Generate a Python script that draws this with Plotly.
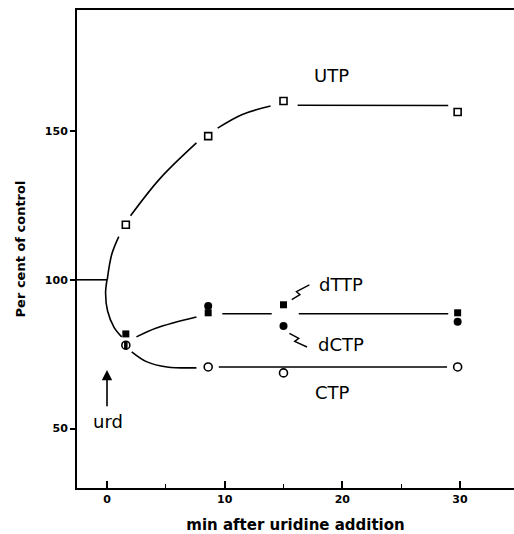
import plotly.graph_objects as go

# ---- data ----
time_pts = [1.6, 8.6, 15.0, 29.8]
utp = [118.5, 148.3, 160.1, 156.4]
dttp = [81.8, 88.9, 91.6, 88.9]
dctp = [78.0, 91.2, 84.5, 85.9]
ctp = [78.0, 70.7, 68.7, 70.7]

# hand-drawn fitted curves (segments separated by None)
base_x = [-2.55, 0.0]
base_y = [100, 100]
utp_curve_x = [1.0, 0.4, 0.02, None, 2.0, 4.5, 7.6, None, 9.4, 11.5, 13.9, None, 16.2, 29.0]
utp_curve_y = [114.5, 108.5, 100.0, None, 121.5, 134.0, 146.0, None, 151.0, 155.6, 158.4, None, 158.7, 158.6]
down_curve_x = [0.0, -0.12, 0.05, 0.6, 1.25]
down_curve_y = [100.0, 95.5, 89.5, 84.0, 80.8]
dnuc_curve_x = [2.5, 4.2, 7.6, None, 9.8, 14.0, None, 16.3, 29.0]
dnuc_curve_y = [80.8, 83.8, 87.5, None, 88.6, 88.6, None, 88.6, 88.6]
ctp_curve_x = [2.1, 3.4, 5.1, 7.6, None, 9.5, 28.9]
ctp_curve_y = [75.8, 72.4, 70.7, 70.4, None, 70.7, 70.7]

# zigzag leaders from labels to the 15-min points
dttp_zig_x = [15.7, 16.4, 16.1, 17.2]
dttp_zig_y = [93.3, 95.0, 96.0, 98.3]
dctp_zig_x = [15.5, 16.3, 15.95, 17.0]
dctp_zig_y = [82.0, 80.3, 79.3, 77.4]

labels = {"UTP": (19.1, 168.7), "dTTP": (19.9, 98.3), "dCTP": (19.9, 78.1), "CTP": (19.2, 62.0)}
arrow_tip = (0.0, 69.7)
arrow_tail = (0.0, 57.0)
urd_pos = (0.1, 52.2)

x_ticks = [0, 10, 20, 30]
y_ticks = [50, 100, 150]

FONT = "DejaVu Sans"
line_style = dict(color="black", width=1.6, shape="spline", smoothing=1.0)

fig = go.Figure()
for cx, cy in [(base_x, base_y), (utp_curve_x, utp_curve_y), (down_curve_x, down_curve_y),
               (dnuc_curve_x, dnuc_curve_y), (ctp_curve_x, ctp_curve_y)]:
    fig.add_trace(go.Scatter(x=cx, y=cy, mode="lines", line=line_style,
                             connectgaps=False, hoverinfo="skip", showlegend=False))
for zx, zy in [(dttp_zig_x, dttp_zig_y), (dctp_zig_x, dctp_zig_y)]:
    fig.add_trace(go.Scatter(x=zx, y=zy, mode="lines", line=dict(color="black", width=1.4),
                             hoverinfo="skip", showlegend=False))

fig.add_trace(go.Scatter(x=time_pts, y=utp, mode="markers", name="UTP", showlegend=False,
                         marker=dict(symbol="square-open", size=7, color="black", line=dict(width=1.6))))
fig.add_trace(go.Scatter(x=time_pts, y=dttp, mode="markers", name="dTTP", showlegend=False,
                         marker=dict(symbol="square", size=7, color="black")))
fig.add_trace(go.Scatter(x=time_pts, y=ctp, mode="markers", name="CTP", showlegend=False,
                         marker=dict(symbol="circle-open", size=8, color="black", line=dict(width=1.6))))
fig.add_trace(go.Scatter(x=time_pts[1:], y=dctp[1:], mode="markers", name="dCTP", showlegend=False,
                         marker=dict(symbol="circle", size=8, color="black")))
# overlapping dCTP/CTP point drawn half-filled
fig.add_trace(go.Scatter(x=time_pts[:1], y=dctp[:1], mode="markers", showlegend=False,
                         marker=dict(symbol="line-ns", size=6, color="black", line=dict(width=3.5, color="black"))))

for txt, (lx, ly) in labels.items():
    fig.add_annotation(x=lx, y=ly, text=txt, showarrow=False,
                       font=dict(family=FONT, size=18, color="black"))
fig.add_annotation(x=arrow_tip[0], y=arrow_tip[1], ax=arrow_tail[0], ay=arrow_tail[1],
                   axref="x", ayref="y", xref="x", yref="y", text="", showarrow=True,
                   arrowhead=2, arrowsize=1.3, arrowwidth=1.6, arrowcolor="black")
fig.add_annotation(x=urd_pos[0], y=urd_pos[1], text="urd", showarrow=False,
                   font=dict(family=FONT, size=18, color="black"))

fig.update_layout(
    width=514, height=534,
    margin=dict(l=77, r=0, t=10, b=46),
    paper_bgcolor="white", plot_bgcolor="white",
    font=dict(family=FONT, color="black"),
    xaxis=dict(range=[-2.55, 34.59], tickvals=x_ticks, ticks="inside", ticklen=7, tickwidth=1.6,
               tickcolor="black", showline=True, linecolor="black", linewidth=2, mirror=True,
               showgrid=False, zeroline=False,
               minor=dict(tickvals=[5, 15, 25], ticks="inside", ticklen=4, tickwidth=1.4, tickcolor="black"),
               tickfont=dict(family=FONT, size=11, color="black", weight="bold"),
               title=dict(text="min after uridine addition", standoff=14,
                          font=dict(family=FONT, size=15, color="black", weight="bold"))),
    yaxis=dict(range=[30, 190.7], tickvals=y_ticks, ticks="outside", ticklen=5, tickwidth=1.6,
               tickcolor="black", showline=True, linecolor="black", linewidth=2, mirror=False,
               showgrid=False, zeroline=False,
               tickfont=dict(family=FONT, size=11, color="black", weight="bold"),
               title=dict(text="Per cent of control", standoff=16,
                          font=dict(family=FONT, size=13, color="black", weight="bold"))),
)
fig.write_html("out.html", config={"displayModeBar": False},
               post_script="document.body.style.margin='0';document.body.style.overflow='hidden';")
